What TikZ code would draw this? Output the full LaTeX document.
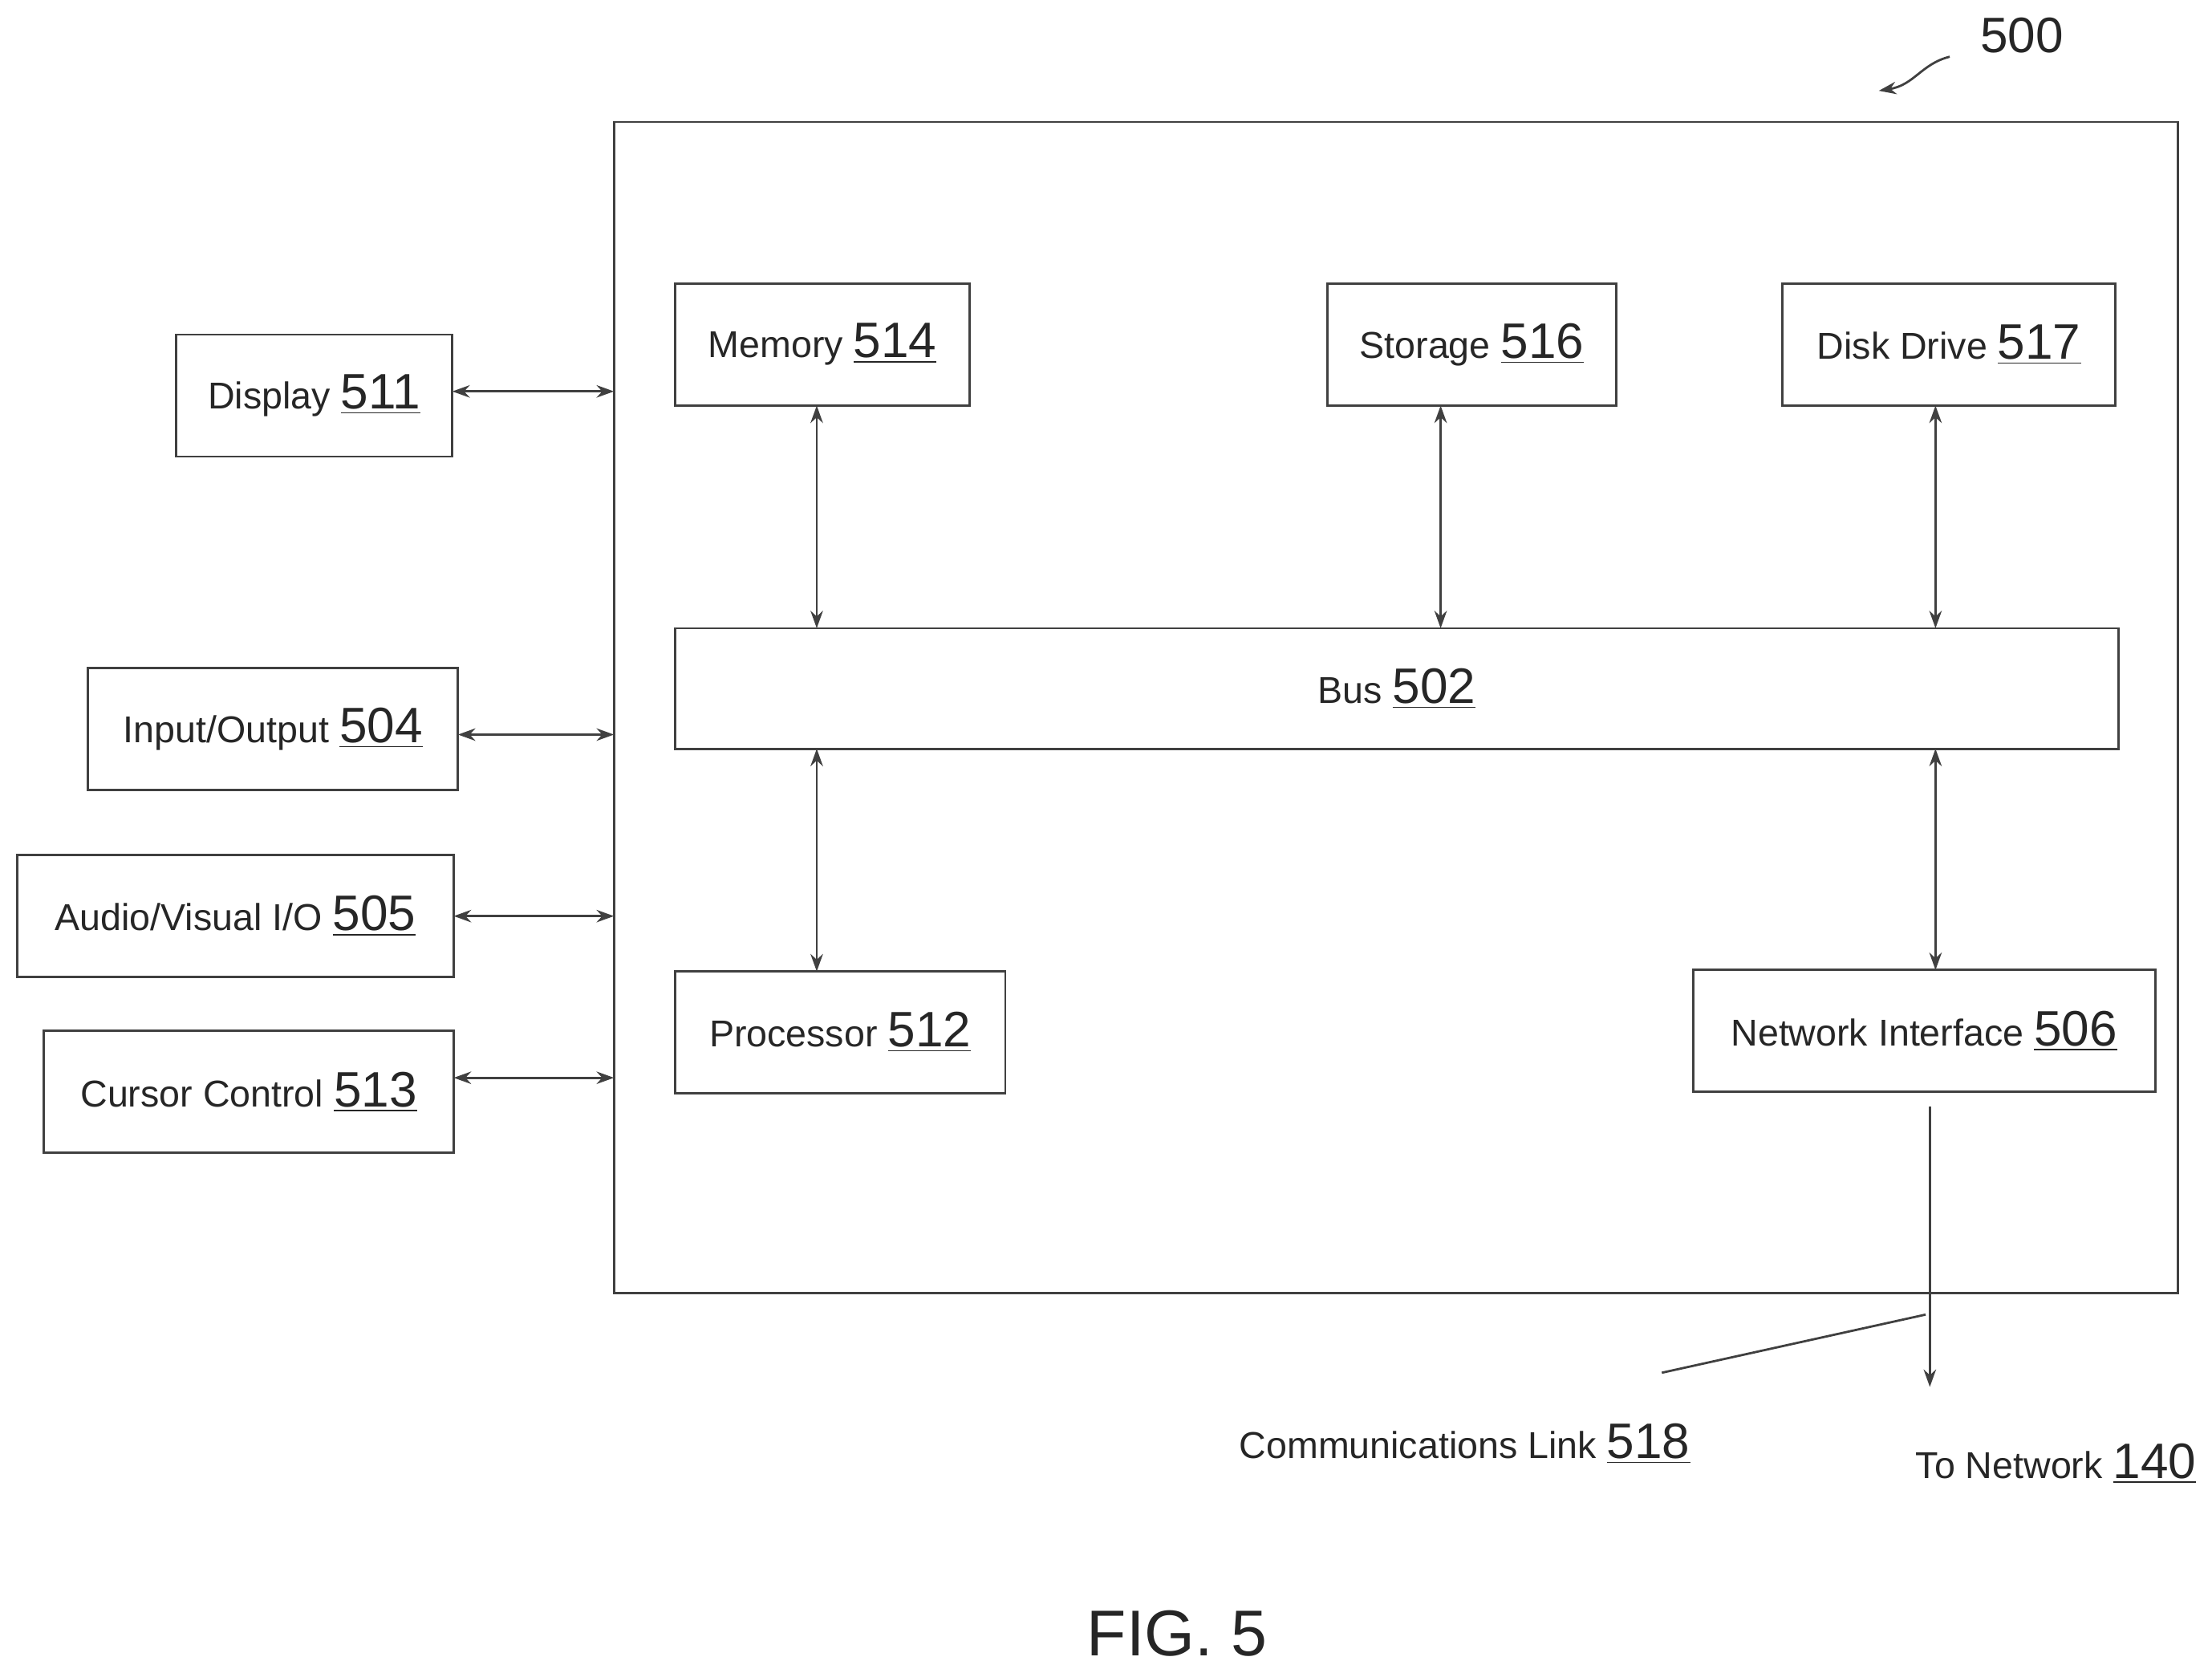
\documentclass[tikz,border=0pt]{standalone}
\usepackage{fontspec}
\setmainfont{Liberation Sans}
\usetikzlibrary{arrows.meta}
\newcommand{\nm}[1]{{\fontsize{20}{22}\selectfont\underline{#1}}}
\begin{document}
\begin{tikzpicture}[x=0.02cm,y=-0.02cm,
  box/.style={draw=black!75,line width=0.9pt},
  lbl/.style={font=\fontsize{15}{18}\selectfont,text=black!85},
  arr/.style={black!75,line width=0.9pt,{Stealth[length=7pt,width=5pt]}-{Stealth[length=7pt,width=5pt]}},
  one/.style={black!75,line width=0.9pt,-{Stealth[length=7pt,width=5pt]}}]
\useasboundingbox (0,0) rectangle (1560,1174);
\draw[box] (433,86) rectangle (1536,912);
\coordinate (OL) at (433,0);
\draw[box] (476,200) rectangle (684,286) node[pos=.5,lbl] (mem) {Memory \nm{514}};
\draw[box] (936,200) rectangle (1140,286) node[pos=.5,lbl] (sto) {Storage \nm{516}};
\draw[box] (1257,200) rectangle (1492,286) node[pos=.5,lbl] (dd) {Disk Drive \nm{517}};
\draw[box] (476,443) rectangle (1494,528) node[pos=.5,lbl] (bus) {Bus \nm{502}};
\draw[box] (476,685) rectangle (709,771) node[pos=.5,lbl] (pro) {Processor \nm{512}};
\draw[box] (1194,684) rectangle (1520,770) node[pos=.5,lbl] (ni) {Network Interface \nm{506}};
\draw[box] (124,236) rectangle (319,322) node[pos=.5,lbl] (dis) {Display \nm{511}};
\draw[box] (62,471) rectangle (323,557) node[pos=.5,lbl] (io) {Input/Output \nm{504}};
\draw[box] (12,603) rectangle (320,689) node[pos=.5,lbl] (av) {Audio/Visual I/O \nm{505}};
\draw[box] (31,727) rectangle (320,813) node[pos=.5,lbl] (cc) {Cursor Control \nm{513}};
% left arrows
\draw[arr] (319,276) -- (433,276);
\draw[arr] (323,518) -- (433,518);
\draw[arr] (320,646) -- (433,646);
\draw[arr] (320,760) -- (433,760);
% vertical
\draw[arr] (576,286) -- (576,443);
\draw[arr] (1016,286) -- (1016,443);
\draw[arr] (1365,286) -- (1365,443);
\draw[arr] (576,528) -- (576,685);
\draw[arr] (1365,528) -- (1365,684);
\coordinate (netEnd) at (1361,978);
\draw[one] (1361,780) -- (netEnd);
\draw[black!75,line width=0.9pt] (1172,968) -- (1358,927);
\node[lbl] (cl) at (1033,1018) {Communications Link \nm{518}};
\node[lbl] (tn) at (1450,1032) {To Network \nm{140}};
\node[font=\fontsize{26}{30}\selectfont,text=black!85] (fig) at (830,1152) {FIG. 5};
\node[font=\fontsize{20}{22}\selectfont,text=black!85] (n500) at (1426,25) {500};
\draw[one] (1375,40) .. controls (1355,45) and (1350,60) .. (1325,64);
\end{tikzpicture}
\end{document}
